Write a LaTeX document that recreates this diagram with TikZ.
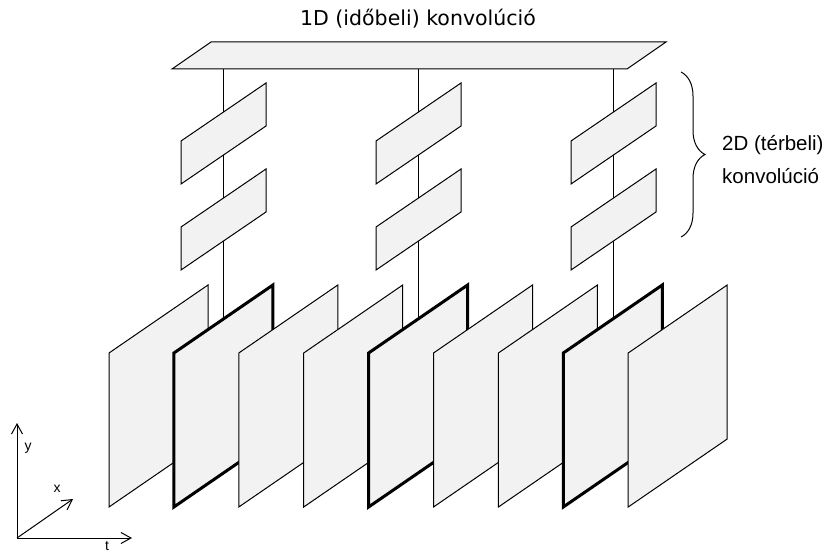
\documentclass[tikz,border=0pt]{standalone}
\usepackage{fontspec}
\setmainfont{DejaVu Sans}
\newfontfamily\arialfont{Liberation Sans}
\usetikzlibrary{arrows.meta, decorations.pathreplacing}

\begin{document}
\begin{tikzpicture}[x=1pt, y=-1pt,
    panel/.style={draw, fill=black!5, line width=1pt},
    keyframe/.style={panel, line width=3pt},
    axis/.style={-{Straight Barb[length=10pt,width=11pt]}, line width=1pt},
    label/.style={font=\arialfont\fontsize{14}{16}\selectfont, inner sep=0pt}]
  \useasboundingbox (0,0) rectangle (824,553);

  \node[font=\fontsize{20.5}{24}\selectfont] (TITLE) at (418,19) {1D (időbeli) konvolúció};

  % temporal links, behind everything
  \foreach \cx/\name in {223/A, 418/B, 613/C} {
    \coordinate (top\name) at (\cx,69);
    \coordinate (bot\name) at (\cx,430);
    \draw[line width=1pt] (top\name) -- (bot\name);
  }

  % 1D slab
  \draw[panel] (172,69) -- (211,42) -- (666,42) -- (627,69) -- cycle;

  % 2D layers
  \foreach \cx in {223,418,613} {
    \foreach \dy in {0,86} {
      \draw[panel] (\cx-42,184+\dy) -- (\cx-42,141+\dy) -- (\cx+43,83+\dy) -- (\cx+43,126+\dy) -- cycle;
    }
  }

  % frames
  \foreach \i in {0,...,8} {
    \pgfmathsetmacro{\lx}{109+64.9*\i}
    \ifnum\i=1 \def\fstyle{keyframe}\else\ifnum\i=4 \def\fstyle{keyframe}\else\ifnum\i=7 \def\fstyle{keyframe}\else\def\fstyle{panel}\fi\fi\fi
    \draw[style=\fstyle] (\lx,507) -- (\lx,353) -- (\lx+99,285) -- (\lx+99,439) -- cycle;
  }

  % brace
  \coordinate (BRtop) at (681,72);
  \coordinate (BRbot) at (681,237);
  \draw[line width=1pt, decorate, decoration={brace, amplitude=24pt}] (BRtop) -- (BRbot);
  \node[anchor=west, align=left, inner sep=0pt, font=\arialfont\fontsize{20.5}{33}\selectfont] (SPATIAL) at (722,160) {2D (térbeli)\\konvolúció};

  % axes
  \coordinate (O) at (17,538);
  \coordinate (Y) at (17,423);
  \coordinate (X) at (73,499);
  \coordinate (T) at (132,538);
  \draw[axis] (O) -- (Y);
  \draw[axis] (O) -- (X);
  \draw[axis] (O) -- (T);
  \node[label] (ylab) at (28,448) {y};
  \node[label] (xlab) at (57,489) {x};
  \node[label] (tlab) at (107,546) {t};
\end{tikzpicture}
\end{document}
